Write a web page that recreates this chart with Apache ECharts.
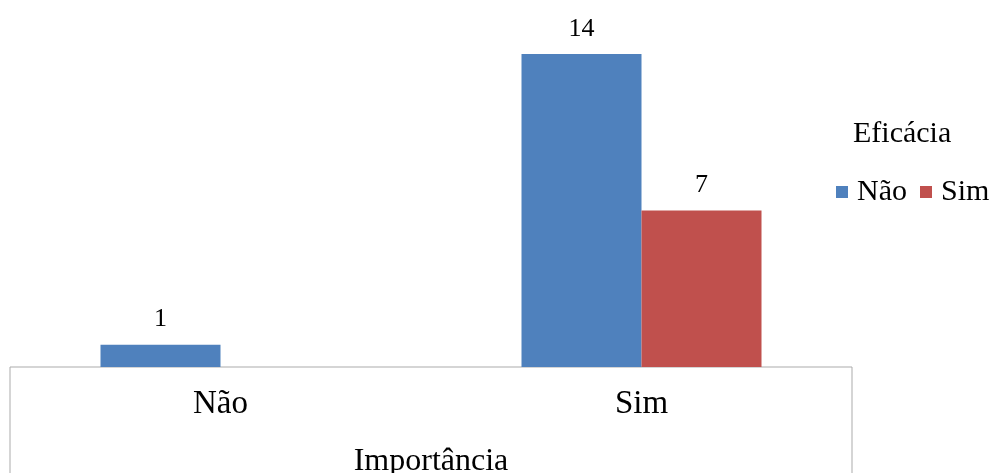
<!DOCTYPE html>
<html>
<head>
<meta charset="utf-8">
<script src="https://cdn.jsdelivr.net/npm/echarts@6/dist/echarts.min.js"></script>
<style>html,body{margin:0;padding:0;background:#fff}#c{width:990px;height:473px}</style>
</head>
<body>
<div id="c"></div>
<script>
const categories = ['Não', 'Sim'];
const seriesNames = ['Não', 'Sim'];
const valuesNao = [1, 14];
const valuesSim = [null, 7];
const xAxisTitle = 'Importância';
const legendTitle = 'Eficácia';

const font = '"Liberation Serif", "Times New Roman", serif';
const chart = echarts.init(document.getElementById('c'), null, {renderer: 'canvas'});
chart.setOption({
  animation: false,
  backgroundColor: '#fff',
  title: {
    text: legendTitle, left: 848, top: 114,
    textStyle: {fontFamily: font, fontSize: 30, fontWeight: 'normal', color: '#000'}
  },
  legend: {
    data: seriesNames, orient: 'horizontal', left: 836, top: 172, width: 160,
    padding: [5, 0, 5, 0],
    icon: 'rect', itemWidth: 12, itemHeight: 12, itemGap: 13,
    textStyle: {fontFamily: font, fontSize: 30, color: '#000', padding: [0, 0, 0, 4]}
  },
  grid: [
    {left: 10, right: 138, top: 54, bottom: 106, outerBoundsMode: 'none', containLabel: false},
    {left: 10, right: 138, top: 367, bottom: -20, outerBoundsMode: 'none', containLabel: false,
     show: true, borderColor: '#ABABAB', borderWidth: 1, backgroundColor: 'transparent'}
  ],
  xAxis: [
    {
      type: 'category', data: categories, gridIndex: 0,
      axisLine: {show: false}, axisTick: {show: false},
      axisLabel: {fontFamily: font, fontSize: 33, color: '#000', margin: 21},
      name: xAxisTitle, nameLocation: 'middle', nameGap: 79,
      nameTextStyle: {fontFamily: font, fontSize: 32, color: '#000'}
    },
    {type: 'category', gridIndex: 1, show: false, data: categories}
  ],
  yAxis: [
    {type: 'value', min: 0, max: 14, gridIndex: 0, show: false, splitLine: {show: false}},
    {type: 'value', gridIndex: 1, show: false, splitLine: {show: false}}
  ],
  series: [
    {
      name: seriesNames[0], type: 'bar', data: valuesNao, barWidth: 120, barGap: '0%',
      itemStyle: {color: '#4F81BD'},
      label: {show: true, position: 'top', distance: 12, fontFamily: font, fontSize: 26, color: '#000'}
    },
    {
      name: seriesNames[1], type: 'bar', data: valuesSim, barWidth: 120, barGap: '0%',
      itemStyle: {color: '#C0504D'},
      label: {show: true, position: 'top', distance: 12, fontFamily: font, fontSize: 26, color: '#000'}
    }
  ]
});
</script>
</body>
</html>
